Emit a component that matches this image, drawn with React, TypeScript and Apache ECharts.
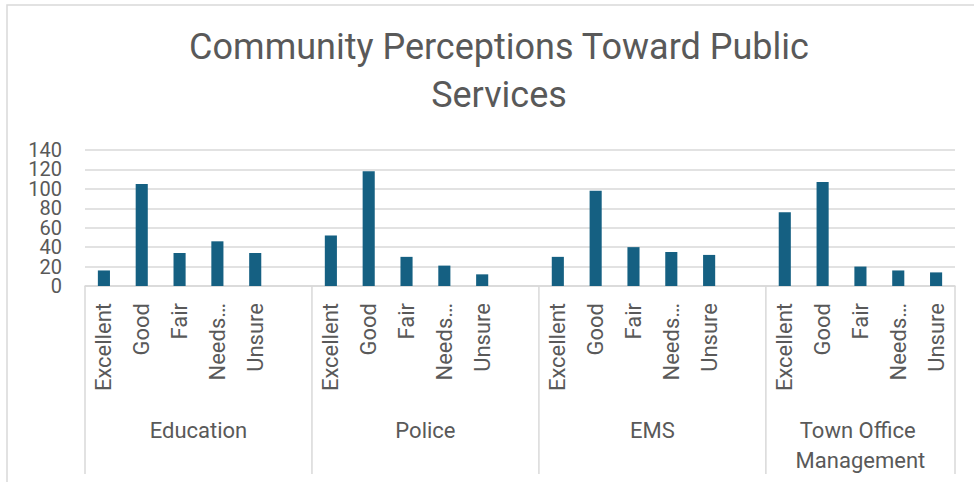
import React, { useEffect, useRef } from "react";
import * as echarts from "echarts";

const titleText = "Community Perceptions Toward Public\nServices";
const groups = ["Education", "Police", "EMS", "Town Office Management"];
const ratings = ["Excellent", "Good", "Fair", "Needs Improvement", "Unsure"];
const educationValues = [16, 105, 34, 46, 34];
const policeValues = [52, 118, 30, 21, 12];
const emsValues = [30, 98, 40, 35, 32];
const townOfficeValues = [76, 107, 20, 16, 14];
const yMin = 0;
const yMax = 140;
const yInterval = 20;

const FONT = "Roboto, 'Noto Sans', sans-serif";
const TEXT_COLOR = "#595959";
const LINE_COLOR = "#d9d9d9";
const BAR_COLOR = "#156082";

export default function App() {
  const ref = useRef<HTMLDivElement>(null);

  useEffect(() => {
    if (!ref.current) return;
    document.body.style.margin = "0";
    const chart = echarts.init(ref.current, null, { renderer: "svg" });

    const groupValues = [educationValues, policeValues, emsValues, townOfficeValues];
    const categories: string[] = [];
    const values: (number | null)[] = [];
    const groupRanges: number[][] = [];
    groupValues.forEach((vals, gi) => {
      const start = categories.length;
      ratings.forEach((r, i) => {
        categories.push(r);
        values.push(vals[i]);
      });
      if (gi < groupValues.length - 1) {
        categories.push("");
        values.push(null);
      }
      groupRanges.push([start, categories.length - 1, gi]);
    });

    const yLabelStyle = {
      margin: 23,
      fontFamily: FONT,
      fontSize: 20,
      lineHeight: 16,
      color: TEXT_COLOR,
    };

    chart.setOption({
      animation: false,
      graphic: [
        {
          type: "rect",
          shape: { x: 7, y: 5, width: 1200, height: 1200 },
          style: { fill: "none", stroke: LINE_COLOR, lineWidth: 1.5 },
          silent: true,
        },
        {
          type: "text",
          x: 499,
          y: 23,
          style: {
            text: titleText,
            align: "center",
            verticalAlign: "top",
            fontFamily: FONT,
            fontSize: 36,
            lineHeight: 48,
            fill: TEXT_COLOR,
          },
          silent: true,
        },
      ],
      grid: { left: 85, right: 19, top: 150, bottom: 196, containLabel: false },
      xAxis: {
        type: "category",
        data: categories,
        axisTick: { show: false },
        axisLine: { show: true, lineStyle: { color: LINE_COLOR, width: 1.5 } },
        axisLabel: {
          interval: 0,
          rotate: 90,
          margin: 17,
          fontFamily: FONT,
          fontSize: 22,
          color: TEXT_COLOR,
          formatter: (v: string) => (v.length > 9 ? v.split(" ")[0] + "…" : v),
        },
      },
      yAxis: [
        {
          type: "value",
          position: "left",
          min: yMin,
          max: yMax,
          interval: yInterval,
          axisLine: { show: false },
          axisTick: { show: false },
          splitLine: { lineStyle: { color: LINE_COLOR, width: 1.5 } },
          axisLabel: {
            ...yLabelStyle,
            showMinLabel: true,
            showMaxLabel: false,
            formatter: (v: number) => (v % (yInterval * 2) === 0 ? String(v) : ""),
          },
        },
        {
          type: "value",
          position: "left",
          offset: 0,
          min: yMin,
          max: yMax,
          interval: yInterval,
          axisLine: { show: false },
          axisTick: { show: false },
          splitLine: { show: false },
          axisLabel: {
            ...yLabelStyle,
            showMinLabel: false,
            showMaxLabel: true,
            formatter: (v: number) => (v % (yInterval * 2) !== 0 ? String(v) : ""),
          },
        },
      ],
      series: [
        {
          type: "bar",
          data: values,
          barWidth: "32%",
          itemStyle: { color: BAR_COLOR },
        },
        {
          type: "custom",
          clip: false,
          silent: true,
          data: groupRanges,
          encode: { x: 0, y: 2 },
          renderItem: (params: any, api: any) => {
            const s = api.value(0);
            const e = api.value(1);
            const gi = api.value(2);
            const band = api.size([1, 0])[0];
            const p0 = api.coord([s, 0]);
            const p1 = api.coord([e, 0]);
            const x0 = p0[0] - band / 2;
            const x1 = p1[0] + band / 2;
            const y0 = p0[1];
            const children: any[] = [
              {
                type: "line",
                shape: { x1: x0, y1: y0, x2: x0, y2: y0 + 188 },
                style: { stroke: LINE_COLOR, lineWidth: 1.5 },
              },
              {
                type: "text",
                style: {
                  text: groups[gi],
                  x: (x0 + x1) / 2,
                  y: y0 + 129,
                  align: "center",
                  verticalAlign: "top",
                  width: x1 - x0 - 30,
                  overflow: "break",
                  lineHeight: 30,
                  fontFamily: FONT,
                  fontSize: 22,
                  fill: TEXT_COLOR,
                },
              },
            ];
            if (gi === groups.length - 1) {
              children.push({
                type: "line",
                shape: { x1: x1, y1: y0, x2: x1, y2: y0 + 188 },
                style: { stroke: LINE_COLOR, lineWidth: 1.5 },
              });
            }
            return { type: "group", children };
          },
        },
      ],
    });

    return () => chart.dispose();
  }, []);

  return <div ref={ref} style={{ width: 974, height: 482 }} />;
}
